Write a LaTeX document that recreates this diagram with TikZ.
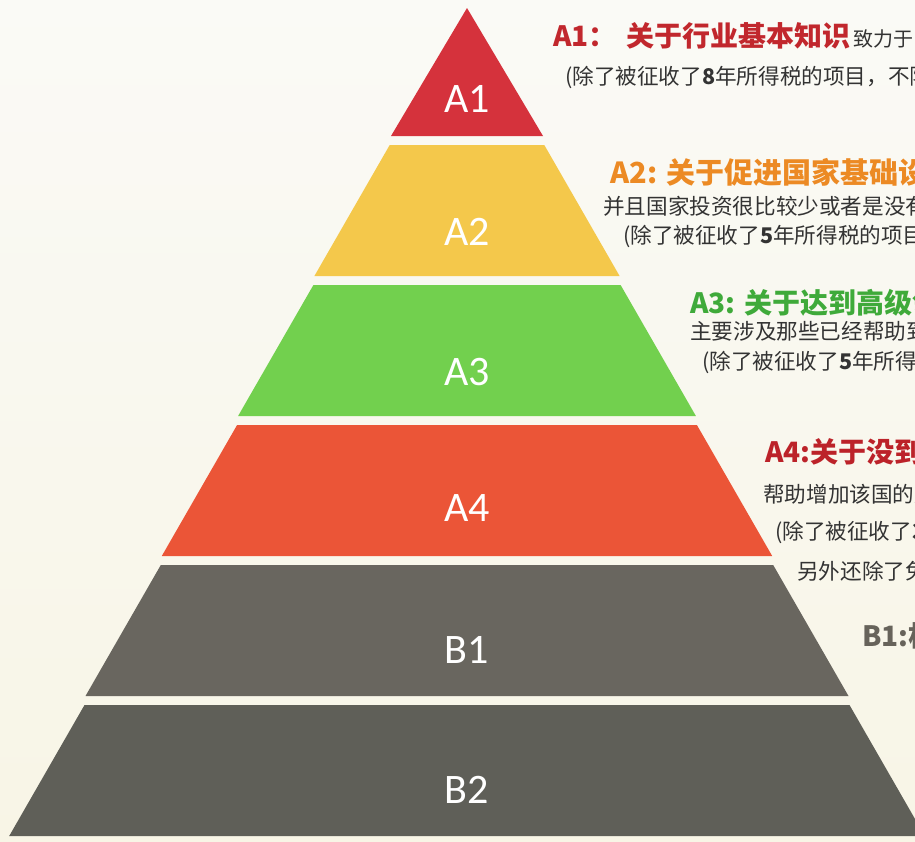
\documentclass[tikz,border=0pt]{standalone}
\usepackage{fontspec}
\setmainfont{Carlito}
\newfontfamily\cjk{Noto Sans CJK SC}

\definecolor{paperTop}{HTML}{FAFAF6}
\definecolor{paperBot}{HTML}{F8F5E6}
\definecolor{colA1}{HTML}{D5323C}
\definecolor{colA2}{HTML}{F4C84B}
\definecolor{colA3}{HTML}{72D04E}
\definecolor{colA4}{HTML}{EB5537}
\definecolor{colB1}{HTML}{69665F}
\definecolor{colB2}{HTML}{5F5F58}
\definecolor{titleA1}{HTML}{C1272D}
\definecolor{titleA2}{HTML}{EC8A24}
\definecolor{titleA3}{HTML}{3FAA3A}
\definecolor{titleA4}{HTML}{BC2229}
\definecolor{titleB1}{HTML}{67635B}
\definecolor{ink}{HTML}{333333}

\tikzset{
  tier/.style={text=white, inner sep=0pt, font=\fontsize{42}{42}\selectfont},
  head/.style={anchor=west, inner sep=0pt, font=\cjk\bfseries\fontsize{28}{28}\selectfont},
  body/.style={anchor=west, inner sep=0pt, text=ink, font=\cjk\fontsize{21.6}{21.6}\selectfont},
}

\begin{document}
\begin{tikzpicture}[x=1pt,y=-1pt]
  \useasboundingbox (0,0) rectangle (915,841);
  \clip (0,0) rectangle (915,841);
  \shade[top color=paperTop, bottom color=paperBot] (0,0) rectangle (915,841);

  % pyramid
  \fill[colA1] (467,8) -- (543,136) -- (391,136) -- cycle;
  \foreach \col [count=\i from 2] in {colA2,colA3,colA4,colB1,colB2} {
    \pgfmathsetmacro{\ytop}{5+140*(\i-1)}
    \pgfmathsetmacro{\ybot}{\ytop+131}
    \pgfmathsetmacro{\wtop}{76.3*(\i-1)+1}
    \pgfmathsetmacro{\wbot}{76.3*\i}
    \fill[\col] (467-\wtop,\ytop) -- (467+\wtop,\ytop) -- (467+\wbot,\ybot) -- (467-\wbot,\ybot) -- cycle;
  }

  \node[tier] (a1) at (467,99) {A1};
  \node[tier] (a2) at (467,232) {A2};
  \node[tier] (a3) at (467,372) {A3};
  \node[tier] (a4) at (467,508) {A4};
  \node[tier] (b1) at (467,650) {B1};
  \node[tier] (b2) at (467,790) {B2};

  % notes on the right
  \node[head, text=titleA1] (a1head) at (553,36) {A1：\hspace{10pt}关于行业基本知识\hspace{3pt}{\mdseries\color{ink}\fontsize{20}{20}\selectfont 致力于}};
  \node[body] (a1note) at (565,77) {(除了被征收了\textbf{8}年所得税的项目，不限};

  \node[head, text=titleA2, font=\cjk\bfseries\fontsize{29}{29}\selectfont] (a2head) at (610,172) {A2: 关于促进国家基础设施};
  \node[body] (a2line) at (603,206) {并且国家投资很比较少或者是没有};
  \node[body] (a2note) at (623,236) {(除了被征收了\textbf{5}年所得税的项目，};

  \node[head, text=titleA3] (a3head) at (690,303) {A3: 关于达到高级领};
  \node[body] (a3line) at (690,331) {主要涉及那些已经帮助到};
  \node[body] (a3note) at (702,362) {(除了被征收了\textbf{5}年所得税};

  \node[head, text=titleA4] (a4head) at (765,452) {A4:关于没到};
  \node[body] (a4line) at (763,494) {帮助增加该国的原};
  \node[body] (a4note) at (775,532) {(除了被征收了\textbf{3}};
  \node[body] (a4more) at (797,571) {另外还除了免};

  \node[head, text=titleB1] (b1head) at (862,636) {B1:根};
\end{tikzpicture}
\end{document}
